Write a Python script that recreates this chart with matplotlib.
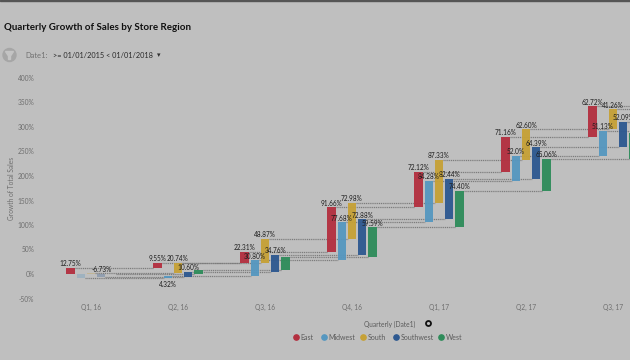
import numpy as np
import matplotlib
matplotlib.use("Agg")
import matplotlib.pyplot as plt

plt.rcParams["font.family"] = ["Lato", "DejaVu Sans"]

BG = "#bfbfbf"
W, H = 630, 360

quarters = ["Q1, 16", "Q2, 16", "Q3, 16", "Q4, 16", "Q1, 17", "Q2, 17", "Q3, 17"]
regions = ["East", "Midwest", "South", "Southwest", "West"]
colors = ["#b32f3f", "#5597c0", "#c6a136", "#2d5890", "#2e8c5a"]

# quarterly growth, points of total sales
east = [12.75, 9.55, 22.31, 91.66, 72.12, 71.16, 62.72]
midwest = [-7.5, 4.32, 30.80, 77.68, 84.28, 52.0, 51.13]
south = [2.5, 20.74, 48.87, 72.98, 87.33, 62.60, 41.26]
southwest = [-6.73, 10.60, 34.76, 72.88, 82.44, 64.39, 52.09]
west = [0.6, 8.0, 27.0, 59.59, 74.40, 65.06, 52.2]

east_labels = ["12.75%", "9.55%", "22.31%", "91.66%", "72.12%", "71.16%", "62.72%"]
midwest_labels = ["", "4.32%", "30.80%", "77.68%", "84.28%", "52.0%", "51.13%"]
south_labels = ["", "20.74%", "48.87%", "72.98%", "87.33%", "62.60%", "41.26%"]
southwest_labels = ["-6.73%", "10.60%", "34.76%", "72.88%", "82.44%", "64.39%", "52.09%"]
west_labels = ["", "", "", "59.59%", "74.40%", "65.06%", "52.2%"]

series = [east, midwest, south, southwest, west]
labels = [east_labels, midwest_labels, south_labels, southwest_labels, west_labels]

y_ticks = [-50, 0, 50, 100, 150, 200, 250, 300, 350, 400]


def fx(px):
    return px / W


def fy(py):
    return 1 - py / H


fig = plt.figure(figsize=(W / 100, H / 100), dpi=100, facecolor=BG)

# plot area in pixels: 40..630 across, 70..305 down
ax = fig.add_axes([fx(40), fy(305), (630 - 40) / W, (305 - 70) / H])
ax.set_facecolor("none")
ax.set_xlim((40 - 91) / 87, (630 - 91) / 87)
ax.set_ylim((274 - 305) / 0.49, (274 - 70) / 0.49)

bar_step = 0.1175
bar_w = 0.095

for r, vals in enumerate(series):
    ends = np.cumsum(vals)
    starts = ends - np.array(vals)
    xs = np.arange(len(quarters)) + (r - 2) * bar_step
    for q in range(len(quarters)):
        # first quarter is faded for everything but East
        alpha = 0.3 if (q == 0 and r > 0) else 0.95
        ax.bar(xs[q], vals[q], bottom=starts[q], width=bar_w,
               color=colors[r], alpha=alpha, zorder=3)
        # connector to the same region in the next quarter
        ax.plot([xs[q] + bar_w / 2, xs[q] + 1 - bar_w / 2], [ends[q], ends[q]],
                color="#7c7c7c", lw=0.9, ls=(0, (0.9, 0.6)), zorder=2)
        txt = labels[r][q]
        if txt:
            top = max(starts[q], ends[q])
            if txt == "4.32%":
                ax.annotate(txt, (xs[q], starts[q]), xytext=(0, -5), textcoords="offset points",
                            ha="center", va="center", fontsize=4.7, color="#1e1e1e", zorder=5)
            else:
                ax.annotate(txt, (xs[q], top), xytext=(0, 3), textcoords="offset points",
                            ha="center", va="center", fontsize=4.7, color="#1e1e1e", zorder=5)

for s in ax.spines.values():
    s.set_visible(False)
ax.set_xticks(range(len(quarters)))
ax.set_xticklabels(quarters)
ax.set_yticks(y_ticks)
ax.set_yticklabels([f"{t}%" for t in y_ticks])
ax.tick_params(axis="both", length=0, labelsize=4.8, labelcolor="#6e6e6e")
ax.tick_params(axis="y", pad=4)
ax.tick_params(axis="x", pad=-1)

# top strip
fig.add_artist(plt.Rectangle((0, fy(1)), 1, 1 / H, transform=fig.transFigure, color="#555555"))

fig.text(fx(3.5), fy(27), "Quarterly Growth of Sales by Store Region",
         fontsize=7.0, fontweight="bold", color="#101010", va="center")
fig.text(fx(25), fy(55), "Date1:", fontsize=5.4, color="#707070", va="center")
fig.text(fx(53), fy(55), ">= 01/01/2015 < 01/01/2018", fontsize=5.3, color="#2a2a2a", va="center")
fig.text(fx(159), fy(55.5), "\u25be", fontsize=5, color="#303030", va="center", ha="center",
         family=["DejaVu Sans"])

# filter icon
fig.add_artist(matplotlib.patches.Ellipse((fx(9.5), fy(55)), 13 / W, 13 / H,
                                          transform=fig.transFigure, color="#a6a6a6"))
fig.add_artist(matplotlib.patches.Polygon(
    [(fx(5.5), fy(51.5)), (fx(13.5), fy(51.5)), (fx(10.5), fy(56)), (fx(10.5), fy(59.5)),
     (fx(8.5), fy(59.5)), (fx(8.5), fy(56))],
    transform=fig.transFigure, color="#c4c4c4"))

fig.text(fx(12), fy(188), "Growth of Total Sales", rotation=90, fontsize=4.8,
         color="#6e6e6e", va="center", ha="center")
fig.text(fx(390), fy(324), "Quarterly (Date1)", fontsize=4.8, color="#5a5a5a",
         va="center", ha="center")

# sort icon next to the axis title
fig.add_artist(matplotlib.lines.Line2D([fx(428)], [fy(323)], marker="o", ms=3.6, mfc=BG,
                                       mec="#111111", mew=1.3, transform=fig.transFigure))

# legend row
legend_dot = [296, 324, 363, 396, 441]
for px, name, c in zip(legend_dot, regions, colors):
    fig.add_artist(matplotlib.lines.Line2D([fx(px)], [fy(337)], marker="o", ms=3.8, color=c,
                                           transform=fig.transFigure))
    fig.text(fx(px + 4.5), fy(337), name, fontsize=5, color="#5a5a5a", va="center")

fig.savefig("out.png", dpi=100, facecolor=BG)
